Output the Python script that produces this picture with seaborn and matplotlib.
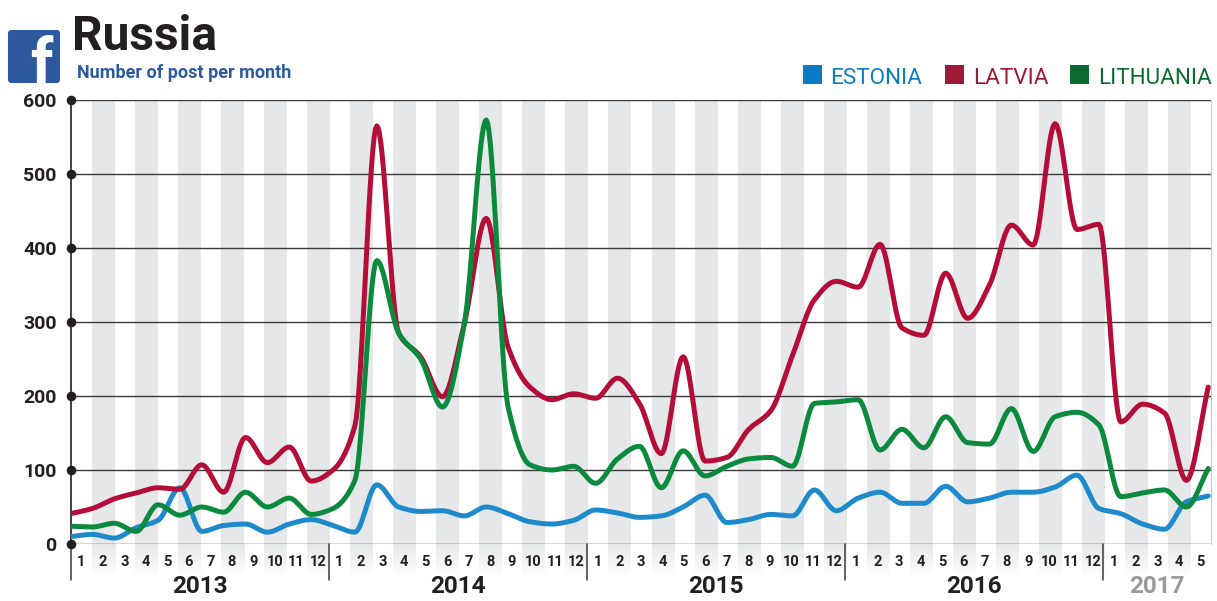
import numpy as np
import pandas as pd
import matplotlib
matplotlib.use("Agg")
import matplotlib.pyplot as plt
from matplotlib.patches import FancyBboxPatch, Rectangle
import seaborn as sns

countries = ["ESTONIA", "LATVIA", "LITHUANIA"]
estonia = [10,13,8,22,32,76,17,25,27,16,27,33,25,16,80,50,44,45,38,50,41,30,27,32,46,42,36,38,50,66,29,33,40,38,73,45,62,70,55,55,78,57,62,70,70,77,93,48,41,27,20,57,65]
latvia = [41,48,61,69,76,74,107,70,144,110,131,85,100,160,565,285,253,199,298,440,266,212,195,203,197,224,190,122,253,112,117,155,180,255,330,355,347,405,292,282,366,305,350,431,404,568,425,432,165,189,177,86,212]
lithuania = [24,23,28,17,53,39,50,43,70,50,62,40,48,86,383,285,250,185,298,573,185,107,100,105,82,115,132,76,126,92,105,115,117,105,190,192,195,127,155,130,172,137,135,183,125,172,178,161,64,69,73,50,102]
years = ["2013", "2014", "2015", "2016", "2017"]
months_per_year = [12, 12, 12, 12, 5]
y_ticks = [0, 100, 200, 300, 400, 500, 600]

line_colors = ["#1f8acb", "#b30d38", "#0b8a3e"]
legend_colors = ["#0b7cc4", "#9c1a35", "#0d6b30"]
INK = "#231f20"
FB = "#2d5a9e"
BAND = "#e6e7e8"
W, H = 1217, 601

sns.set_style("white")
plt.rcParams["font.family"] = ["Roboto", "DejaVu Sans"]


def smooth(values, per=16):
    """Monotone cubic drawing path through the monthly values."""
    v = np.asarray(values, float)
    s = np.diff(v)
    d = np.zeros_like(v)
    for i in range(1, len(v) - 1):
        if s[i - 1] * s[i] > 0:
            d[i] = 2 * s[i - 1] * s[i] / (s[i - 1] + s[i])
    d[0], d[-1] = s[0], s[-1]
    t = np.linspace(0, 1, per, endpoint=False)
    h00 = 2 * t**3 - 3 * t**2 + 1
    h10 = t**3 - 2 * t**2 + t
    h01 = -2 * t**3 + 3 * t**2
    h11 = t**3 - t**2
    xs, ys = [], []
    for i in range(len(v) - 1):
        xs.append(i + t)
        ys.append(h00 * v[i] + h10 * d[i] + h01 * v[i + 1] + h11 * d[i + 1])
    xs.append([len(v) - 1.0])
    ys.append([v[-1]])
    return np.concatenate(xs), np.concatenate(ys)


frames = []
for name, vals in zip(countries, [estonia, latvia, lithuania]):
    x, y = smooth(vals)
    frames.append(pd.DataFrame({"month": x, "posts": y, "country": name}))
df = pd.concat(frames, ignore_index=True)

fig = plt.figure(figsize=(W / 100, H / 100), dpi=100, facecolor="white")
left, right, top, bottom = 70.5, 1211.0, 100.0, 544.0
ax = fig.add_axes([left / W, 1 - bottom / H, (right - left) / W, (bottom - top) / H])

px = 21.88            # pixels per month for the data points
band = 21.52 / px     # month band in x units
xmax = (right - left) / px
n_months = sum(months_per_year)

rgba = np.ones((64, 1, 4))
rgba[..., :3] = matplotlib.colors.to_rgb(BAND)
rgba[..., 3] = np.linspace(1, 0, 64).reshape(-1, 1)
for k in range(1, n_months, 2):
    x0 = k * band
    w = 23 / px
    ax.axvspan(x0, x0 + w, color=BAND, lw=0, zorder=0)
    ax.imshow(rgba, extent=[x0, x0 + w, -46, 0], aspect="auto", origin="upper",
              clip_on=False, zorder=0, interpolation="bilinear")

for v in y_ticks:
    ax.axhline(v, color="#3a3a3a", lw=1.0, zorder=1)

sns.lineplot(data=df, x="month", y="posts", hue="country", hue_order=countries,
             palette=line_colors, linewidth=3.6, legend=False, sort=False,
             estimator=None, errorbar=None, ax=ax, zorder=3)
for ln in ax.lines:
    ln.set_solid_capstyle("round")

ax.set_xlim(0, xmax)
ax.set_ylim(0, 600)
for s in ["top", "bottom"]:
    ax.spines[s].set_visible(False)
ax.spines["left"].set_color(INK)
ax.spines["left"].set_linewidth(1.2)
ax.spines["right"].set_color("#c8c8c8")
ax.spines["right"].set_linewidth(0.8)
ax.set_xlabel("")
ax.set_ylabel("")

ax.scatter([0] * len(y_ticks), y_ticks, s=48, color=INK, clip_on=False, zorder=5, linewidths=0)
ax.set_yticks(y_ticks)
ax.set_yticklabels([str(v) for v in y_ticks], fontsize=14, fontweight="bold", color=INK)
ax.tick_params(axis="y", length=0, pad=10)

month_labels = [str(m) for c in months_per_year for m in range(1, c + 1)]
ax.set_xticks([(k + 0.5) * band for k in range(n_months)])
ax.set_xticklabels(month_labels, fontsize=10.5, fontweight="bold", color=INK)
ax.tick_params(axis="x", length=0, pad=8)

start = 0
for yr, c in zip(years, months_per_year):
    ax.plot([start * band] * 2, [0, -48], color="#3a3a3a", lw=1.1, clip_on=False, zorder=2)
    ax.text((start + c / 2) * band, -57, yr, ha="center", va="center", fontsize=17.5, fontweight="bold",
            color="#9a9a9a" if yr == "2017" else INK, clip_on=False)
    start += c


def fx(p):
    return p / W


def fy(p):
    return 1 - p / H


fig.text(fx(72), fy(50), "Russia", fontsize=34.5, fontweight="bold", color=INK, va="baseline", ha="left")
fig.text(fx(77), fy(78), "Number of post per month", fontsize=13, fontweight="bold", color=FB, va="baseline", ha="left")

logo = FancyBboxPatch((fx(9), fy(82)), fx(50), 51 / H, boxstyle="round,pad=0,rounding_size=0.002",
                      transform=fig.transFigure, fc=FB, ec=FB, lw=1.5, mutation_aspect=2)
fig.add_artist(logo)
fig.text(fx(41), fy(83), "f", fontsize=45, fontweight="bold", color="white", ha="center", va="baseline")

for name, color, sq, tx in zip(countries, legend_colors, [803, 945, 1070], [830, 973, 1098]):
    fig.add_artist(Rectangle((fx(sq), fy(84)), 19 / W, 19 / H, transform=fig.transFigure, fc=color, ec="none"))
    fig.text(fx(tx), fy(84), name, fontsize=16.2, color=color, va="baseline", ha="left")

fig.savefig("out.png", dpi=100)
